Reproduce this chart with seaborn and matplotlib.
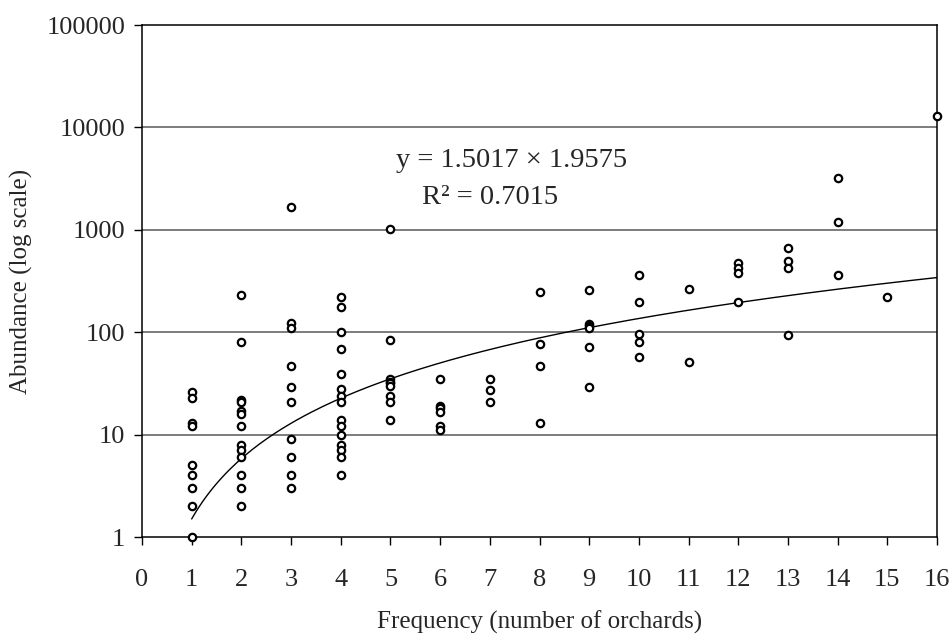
import numpy as np
import pandas as pd
import matplotlib
matplotlib.use("Agg")
import matplotlib.pyplot as plt
import seaborn as sns

# ---------- dados ---------- #
frequency = (
    [1] * 9 + [2] * 13 + [3] * 10 + [4] * 15 + [5] * 9 + [6] * 6 + [7] * 3 + [8] * 4
    + [9] * 6 + [10] * 5 + [11] * 2 + [12] * 4 + [13] * 4 + [14] * 3 + [15] + [16]
)
abundance = [
    26, 23, 13, 12, 5, 4, 3, 2, 1,                       # 1
    230, 80, 22, 21, 17, 16, 12, 8, 7, 6, 4, 3, 2,       # 2
    1680, 122, 109, 47, 29, 21, 9, 6, 4, 3,              # 3
    219, 175, 100, 68, 39, 28, 24, 21, 14, 12, 10, 8, 7, 6, 4,  # 4
    1020, 83, 35, 33, 32, 30, 24, 21, 14,                # 5
    35, 19, 18, 16.5, 12, 11,                            # 6
    35, 27, 21,                                          # 7
    247, 77, 47, 13,                                     # 8
    258, 120, 115, 111, 71, 29,                          # 9
    362, 196, 97, 80, 57,                                # 10
    266, 51,                                             # 11
    471, 421, 376, 197,                                  # 12
    660, 499, 421, 94,                                   # 13
    3180, 1200, 362,                                     # 14
    221,                                                 # 15
    12900,                                               # 16
]
# coeficientes da linha de tendência (potência), como no gráfico
coef_a = 1.5017
coef_b = 1.9575
r2 = 0.7015
x_ticks = list(range(0, 17))
y_ticks = [1, 10, 100, 1000, 10000, 100000]
y_ticklabels = ["1", "10", "100", "1000", "10000", "100000"]
# -------------------------------------------- #

df = pd.DataFrame({"freq": frequency, "abund": abundance})
trend_x = np.linspace(1, 16, 200)
trend = pd.DataFrame({"freq": trend_x, "abund": coef_a * trend_x ** coef_b})

sns.set_style("white")
plt.rcParams['font.family'] = ['Liberation Serif', 'DejaVu Serif']

fig = plt.figure(figsize=(9.53, 6.38), dpi=100)
ax = fig.add_axes([142 / 953, 1 - 537 / 638, (937 - 142) / 953, (537 - 25) / 638])

ax.set_yscale("log")
for yv in y_ticks[1:-1]:
    ax.axhline(yv, color="#666666", lw=1.2, zorder=0)

sns.lineplot(data=trend, x="freq", y="abund", color="black", lw=1.0, ax=ax, zorder=2)
sns.scatterplot(data=df, x="freq", y="abund", marker="o", s=28, facecolor="white",
                edgecolor="black", linewidth=1.6, ax=ax, zorder=3, clip_on=False)

ax.set_xlim(0, 16)
ax.set_ylim(1, 100000)
ax.set_xticks(x_ticks)
ax.set_xticklabels([str(t) for t in x_ticks])
ax.set_yticks(y_ticks)
ax.set_yticklabels(y_ticklabels)
ax.minorticks_off()
ax.tick_params(axis="both", direction="out", length=6, width=1, color="black",
               labelsize=19, bottom=True, left=True)
ax.tick_params(axis="x", pad=17)
ax.tick_params(axis="y", pad=6)

for s in ax.spines.values():
    s.set_color("black")
    s.set_linewidth(1.1)

ax.set_xlabel("Frequency (number of orchards)", fontsize=18, labelpad=14)
ax.set_ylabel("Abundance (log scale)", fontsize=18, labelpad=10)

ax.text(7.43, 4700, f"y = {coef_a} \u00d7 {coef_b}", fontsize=20.5, ha="center", va="center")
ax.text(7.0, 2050, f"R\u00b2 = {r2}", fontsize=20.5, ha="center", va="center")

fig.savefig("out.png", dpi=100)
